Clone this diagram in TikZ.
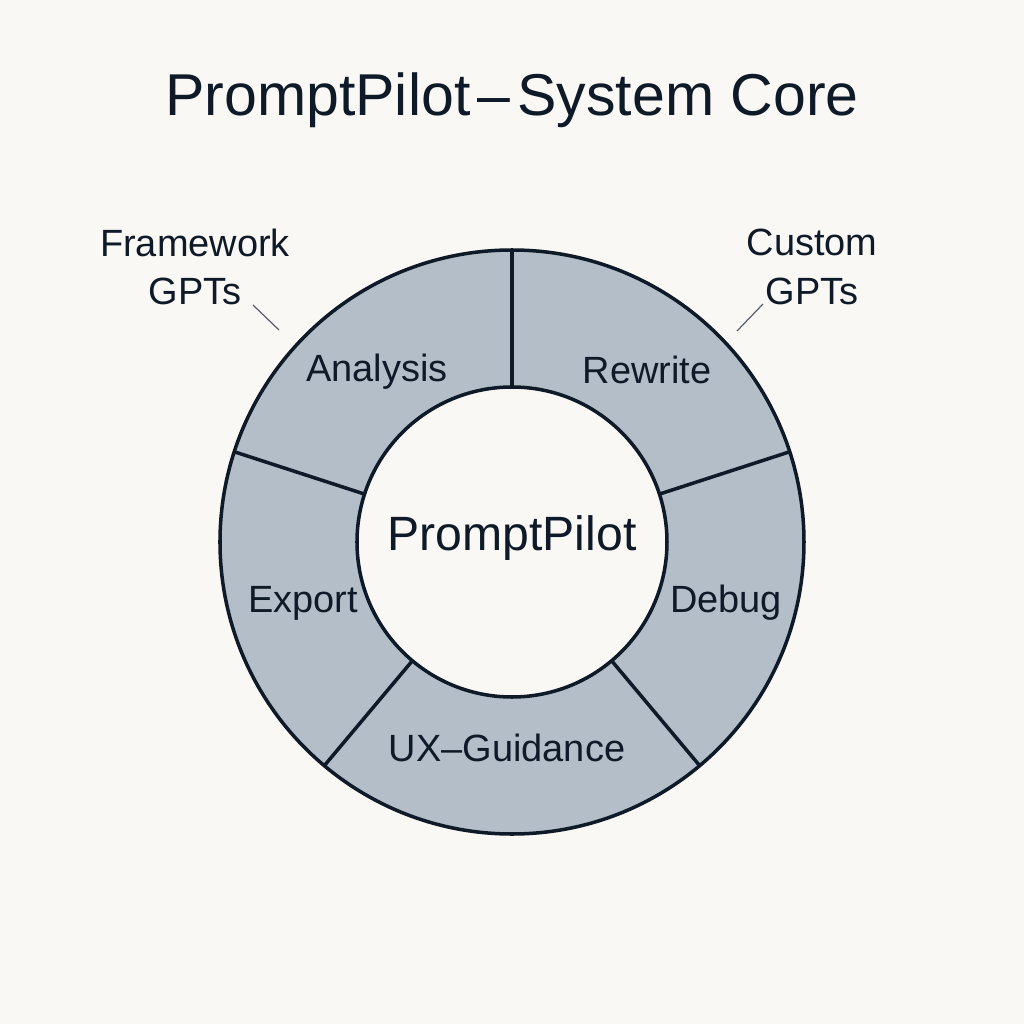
\documentclass[tikz,border=0pt]{standalone}
\usepackage{fontspec}
\setmainfont{Liberation Sans}
\usepackage{tikz}
\usetikzlibrary{positioning}

\definecolor{bgcol}{HTML}{FAF8F5}
\definecolor{ringcol}{HTML}{B4BEC9}
\definecolor{inkcol}{HTML}{0F1A28}
\definecolor{leadcol}{HTML}{5A6068}

\begin{document}
\begin{tikzpicture}[
    segtext/.style={
      text=inkcol,
      font=\fontsize{10.8}{13.9}\selectfont,
      align=center
    },
    sidetext/.style={
      text=inkcol,
      font=\fontsize{10.8}{13.9}\selectfont,
      align=center
    },
    ringline/.style={draw=inkcol, line width=1pt},
    leader/.style={draw=leadcol, line width=0.35pt}
  ]
    \fill[bgcol] (-5.12,-4.82) rectangle (5.12,5.42);
    \useasboundingbox (-5.12,-4.82) rectangle (5.12,5.42);

    \node[text=inkcol, font=\fontsize{16.8}{19}\selectfont] (title) at (0,4.42) {PromptPilot\hspace{0.12em}–\hspace{0.12em}System Core};

    % ring
    \coordinate (hub) at (0,0);
    \fill[ringcol, even odd rule] (hub) circle (2.92) (hub) circle (1.55);
    \draw[ringline] (hub) circle (2.92);
    \draw[ringline] (hub) circle (1.55);
    \draw[ringline] (90:1.55) -- (90:2.92);
    \draw[ringline] (18:1.55) -- (18:2.92);
    \draw[ringline] (-50:1.55) -- (-50:2.92);
    \draw[ringline] (-130:1.55) -- (-130:2.92);
    \draw[ringline] (162:1.55) -- (162:2.92);

    \node[text=inkcol, font=\fontsize{13.7}{16}\selectfont] (core) at (0,0.04) {PromptPilot};

    \node[segtext] (analysis) at (-1.35,1.70) {Analysis};
    \node[segtext] (rewrite) at (1.35,1.72) {Rewrite};
    \node[segtext] (export) at (-2.09,-0.61) {Export};
    \node[segtext] (debug) at (2.14,-0.61) {Debug};
    \node[segtext] (uxguide) at (-0.05,-2.06) {UX–Guidance};

    \node[sidetext] (framework) at (-3.17,2.75) {Framework\\GPTs};
    \node[sidetext] (custom) at (3.00,2.75) {Custom\\GPTs};

    \coordinate (fwstart) at (-2.59,2.37);
    \coordinate (fwend) at (-2.33,2.12);
    \coordinate (cusstart) at (2.51,2.38);
    \coordinate (cusend) at (2.25,2.11);
    \draw[leader] (fwstart) -- (fwend);
    \draw[leader] (cusstart) -- (cusend);
  \end{tikzpicture}
\end{document}
